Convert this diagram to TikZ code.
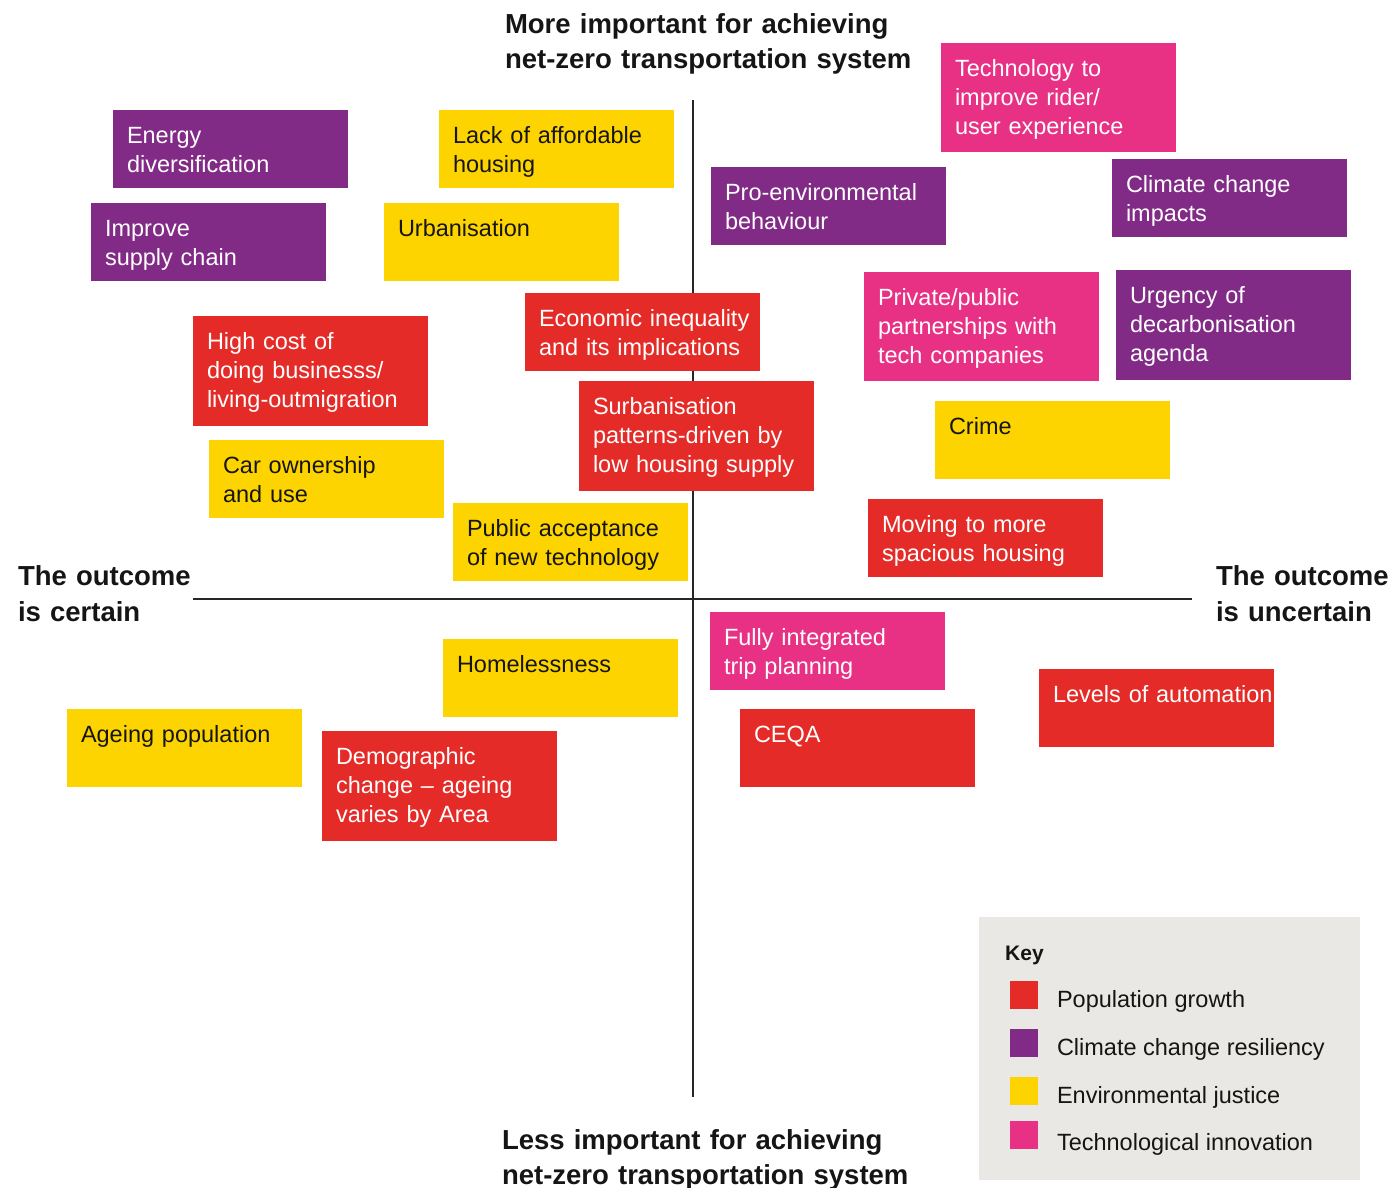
\documentclass[tikz,border=0pt]{standalone}
\usepackage{fontspec}
\setmainfont{Liberation Sans}
\usetikzlibrary{calc}

\definecolor{popred}{HTML}{E52B27}
\definecolor{climpurple}{HTML}{812A86}
\definecolor{envyellow}{HTML}{FDD400}
\definecolor{techpink}{HTML}{E83184}
\definecolor{keybg}{HTML}{EAE8E4}
\definecolor{axisgray}{HTML}{262626}
\definecolor{inkdark}{HTML}{151515}

\tikzset{
  cardbox/.style={anchor=north west, inner sep=0pt, outer sep=0pt,
    minimum width=235pt},
  cardtext/.style={anchor=base west, inner sep=0pt, outer sep=0pt,
    text width=232pt, align=left,
    font=\fontsize{23.5}{29}\selectfont},
  axisline/.style={draw=axisgray, line width=1.6pt},
  heading/.style={anchor=base west, inner sep=0pt, outer sep=0pt,
    text width=420pt, align=left, text=inkdark,
    font=\fontsize{27.5}{35}\selectfont\bfseries},
  sidehead/.style={heading, font=\fontsize{27.5}{36.5}\selectfont\bfseries},
  keyswatch/.style={anchor=north west, inner sep=0pt, outer sep=0pt,
    minimum width=28pt, minimum height=28pt},
  keylabel/.style={anchor=base west, inner sep=0pt, outer sep=0pt,
    text=inkdark, font=\fontsize{23.5}{29}\selectfont},
}

% #1 name, #2 x, #3 y (top left), #4 height, #5 fill, #6 text colour, #7 text
\newcommand\factorcard[7]{%
  \node[cardbox, fill=#5, minimum height=#4pt] (#1) at (#2,#3) {};
  \node[cardtext, text=#6] (#1-txt) at ($(#1.north west)+(14,33)$) {#7};
}

\begin{document}
\hyphenpenalty=10000
\exhyphenpenalty=10000
\begin{tikzpicture}[x=1pt, y=-1pt]
\useasboundingbox (0,0) rectangle (1391,1187);

% axes
\coordinate (ytop) at (693,100);
\coordinate (ybot) at (693,1097);
\coordinate (xleft) at (193,599);
\coordinate (xright) at (1192,599);
\draw[axisline] (ytop) -- (ybot);
\draw[axisline] (xleft) -- (xright);

% axis headings
\node[heading] (hmore) at (505,33) {More important for achieving\\net-zero transportation system};
\node[heading] (hless) at (502,1149) {Less important for achieving\\net-zero transportation system};
\node[sidehead] (hcertain) at (18,585) {The outcome\\is certain};
\node[sidehead] (huncertain) at (1216,585) {The outcome\\is uncertain};

% climate change resiliency
\factorcard{energy}{113}{110}{78}{climpurple}{white}{Energy\\diversification}
\factorcard{supply}{91}{203}{78}{climpurple}{white}{Improve\\supply chain}
\factorcard{proenv}{711}{167}{78}{climpurple}{white}{Pro-environmental\\behaviour}
\factorcard{impacts}{1112}{159}{78}{climpurple}{white}{Climate change\\impacts}
\factorcard{urgency}{1116}{270}{110}{climpurple}{white}{Urgency of\\decarbonisation\\agenda}

% technological innovation
\factorcard{ridertech}{941}{43}{109}{techpink}{white}{Technology to\\improve rider/\\user experience}
\factorcard{partners}{864}{272}{109}{techpink}{white}{Private/public\\partnerships with\\tech companies}
\factorcard{tripplan}{710}{612}{78}{techpink}{white}{Fully integrated\\trip planning}

% environmental justice
\factorcard{afford}{439}{110}{78}{envyellow}{inkdark}{Lack of affordable\\housing}
\factorcard{urban}{384}{203}{78}{envyellow}{inkdark}{Urbanisation}
\factorcard{carown}{209}{440}{78}{envyellow}{inkdark}{Car ownership\\and use}
\factorcard{accept}{453}{503}{78}{envyellow}{inkdark}{Public acceptance\\of new technology}
\factorcard{crime}{935}{401}{78}{envyellow}{inkdark}{Crime}
\factorcard{homeless}{443}{639}{78}{envyellow}{inkdark}{Homelessness}
\factorcard{ageing}{67}{709}{78}{envyellow}{inkdark}{Ageing population}

% population growth
\factorcard{inequality}{525}{293}{78}{popred}{white}{Economic inequality\\and its implications}
\factorcard{highcost}{193}{316}{110}{popred}{white}{High cost of\\doing businesss/\\living-outmigration}
\factorcard{surban}{579}{381}{110}{popred}{white}{Surbanisation\\patterns-driven by\\low housing supply}
\factorcard{spacious}{868}{499}{78}{popred}{white}{Moving to more\\spacious housing}
\factorcard{automation}{1039}{669}{78}{popred}{white}{Levels of automation}
\factorcard{ceqa}{740}{709}{78}{popred}{white}{CEQA}
\factorcard{demog}{322}{731}{110}{popred}{white}{Demographic\\change -- ageing\\varies by Area}

% key
\node[anchor=north west, inner sep=0pt, fill=keybg, minimum width=381pt, minimum height=263pt] (keypanel) at (979,917) {};
\node[anchor=base west, inner sep=0pt, text=inkdark, font=\fontsize{21}{25}\selectfont\bfseries] (keytitle) at (1005,960) {Key};
\node[keyswatch, fill=popred] (swpop) at (1010,981) {};
\node[keyswatch, fill=climpurple] (swclim) at (1010,1029) {};
\node[keyswatch, fill=envyellow] (swenv) at (1010,1077) {};
\node[keyswatch, fill=techpink] (swtech) at (1010,1121) {};
\node[keylabel] (lbpop) at (1057,1007) {Population growth};
\node[keylabel] (lbclim) at (1057,1055) {Climate change resiliency};
\node[keylabel] (lbenv) at (1057,1103) {Environmental justice};
\node[keylabel] (lbtech) at (1057,1150) {Technological innovation};
\end{tikzpicture}
\end{document}
